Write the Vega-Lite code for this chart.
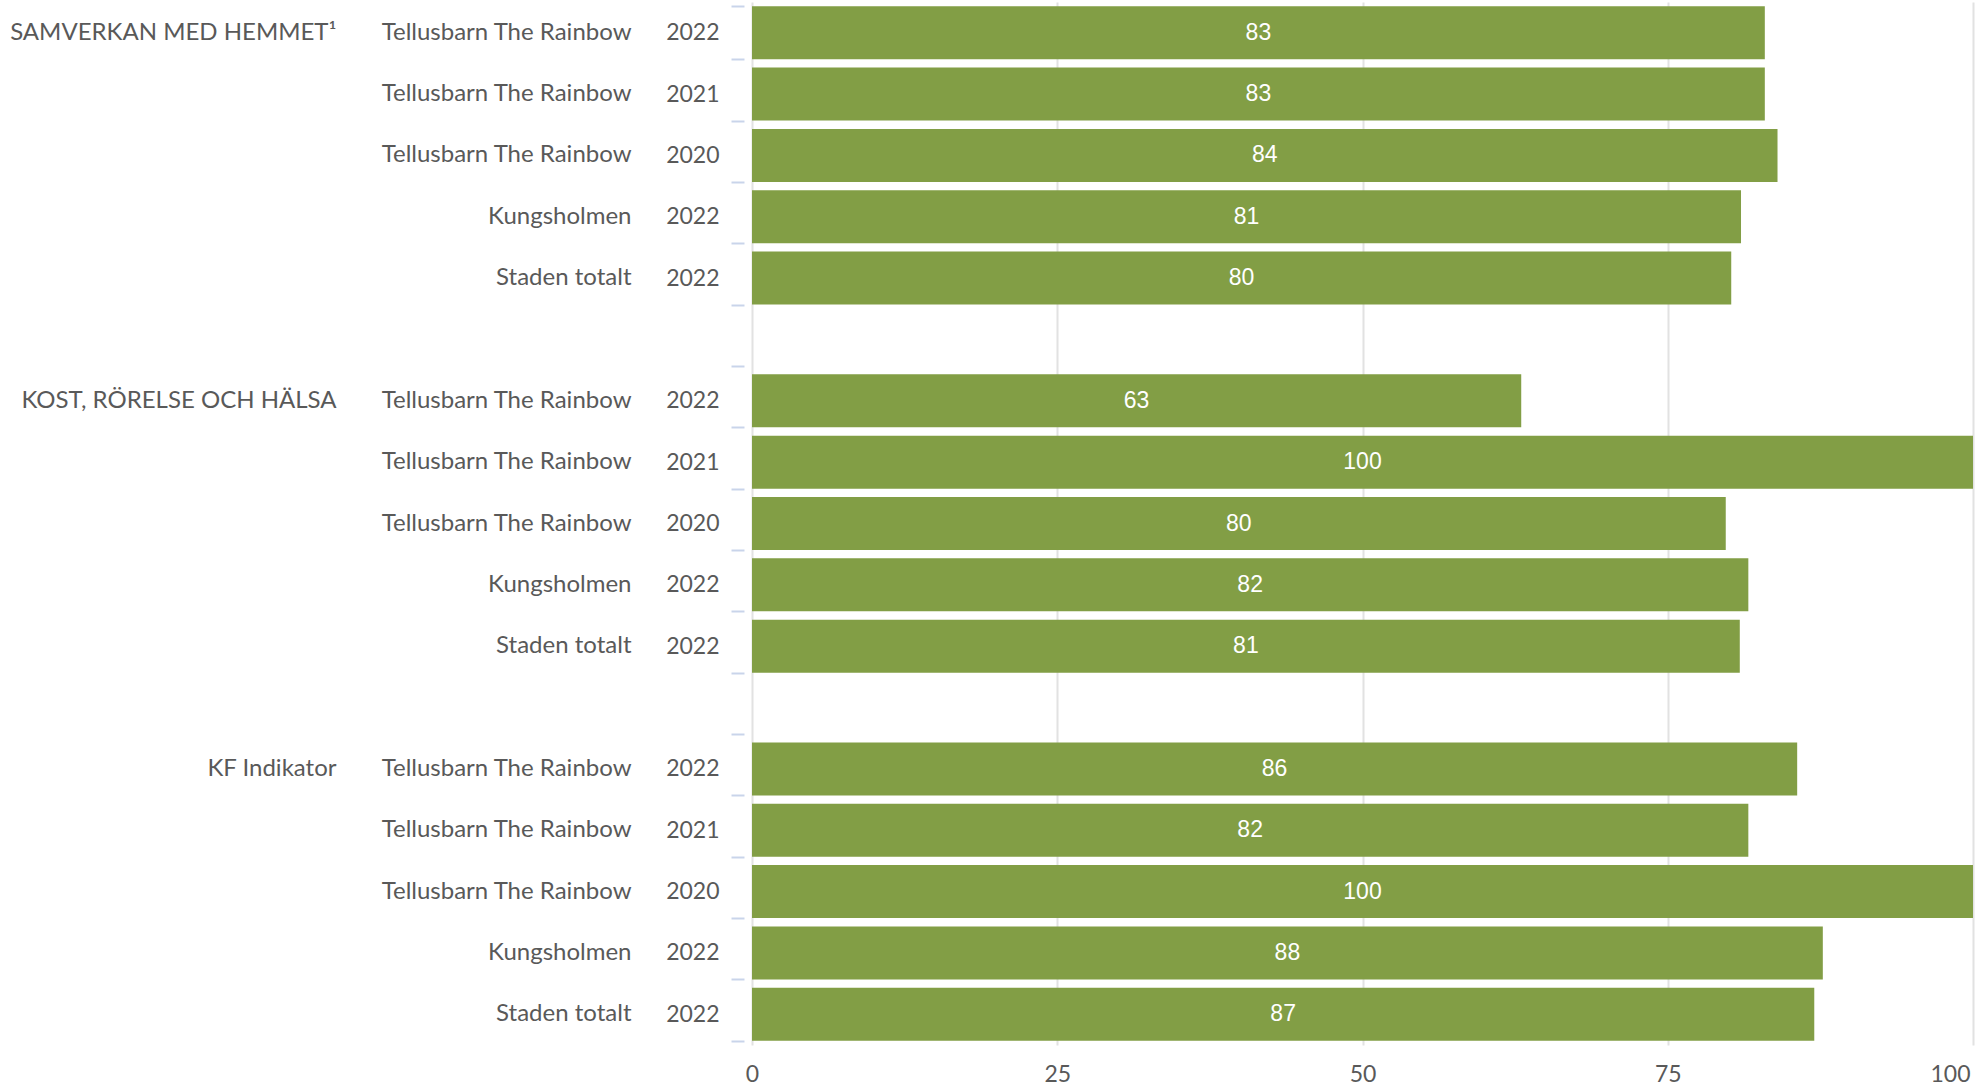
{
  "$schema": "https://vega.github.io/schema/vega-lite/v6.json",
  "width": 1221,
  "height": 1043,
  "autosize": {"type": "none"},
  "padding": {"left": 752, "top": 2, "right": 2, "bottom": 42},
  "background": "white",
  "config": {
    "view": {"stroke": null},
    "font": "Lato",
    "axis": {"labelFont": "Lato", "labelColor": "#595959", "labelFontSize": 23, "title": null}
  },
  "data": {
    "values": [
      {"row": "SAMVERKAN MED HEMMET¹|Tellusbarn The Rainbow|2022|1", "group": "SAMVERKAN MED HEMMET", "entity": "Tellusbarn The Rainbow", "year": "2022", "value": 82.95},
      {"row": "|Tellusbarn The Rainbow|2021|2", "group": "SAMVERKAN MED HEMMET", "entity": "Tellusbarn The Rainbow", "year": "2021", "value": 82.95},
      {"row": "|Tellusbarn The Rainbow|2020|3", "group": "SAMVERKAN MED HEMMET", "entity": "Tellusbarn The Rainbow", "year": "2020", "value": 83.99},
      {"row": "|Kungsholmen|2022|4", "group": "SAMVERKAN MED HEMMET", "entity": "Kungsholmen", "year": "2022", "value": 81.0},
      {"row": "|Staden totalt|2022|5", "group": "SAMVERKAN MED HEMMET", "entity": "Staden totalt", "year": "2022", "value": 80.2},
      {"row": "KOST, RÖRELSE OCH HÄLSA|Tellusbarn The Rainbow|2022|6", "group": "KOST, RÖRELSE OCH HÄLSA", "entity": "Tellusbarn The Rainbow", "year": "2022", "value": 63.0},
      {"row": "|Tellusbarn The Rainbow|2021|7", "group": "KOST, RÖRELSE OCH HÄLSA", "entity": "Tellusbarn The Rainbow", "year": "2021", "value": 100},
      {"row": "|Tellusbarn The Rainbow|2020|8", "group": "KOST, RÖRELSE OCH HÄLSA", "entity": "Tellusbarn The Rainbow", "year": "2020", "value": 79.75},
      {"row": "|Kungsholmen|2022|9", "group": "KOST, RÖRELSE OCH HÄLSA", "entity": "Kungsholmen", "year": "2022", "value": 81.6},
      {"row": "|Staden totalt|2022|10", "group": "KOST, RÖRELSE OCH HÄLSA", "entity": "Staden totalt", "year": "2022", "value": 80.9},
      {"row": "KF Indikator|Tellusbarn The Rainbow|2022|11", "group": "KF Indikator", "entity": "Tellusbarn The Rainbow", "year": "2022", "value": 85.6},
      {"row": "|Tellusbarn The Rainbow|2021|12", "group": "KF Indikator", "entity": "Tellusbarn The Rainbow", "year": "2021", "value": 81.6},
      {"row": "|Tellusbarn The Rainbow|2020|13", "group": "KF Indikator", "entity": "Tellusbarn The Rainbow", "year": "2020", "value": 100},
      {"row": "|Kungsholmen|2022|14", "group": "KF Indikator", "entity": "Kungsholmen", "year": "2022", "value": 87.7},
      {"row": "|Staden totalt|2022|15", "group": "KF Indikator", "entity": "Staden totalt", "year": "2022", "value": 87.0}
    ]
  },
  "layer": [
    {
      "mark": {"type": "bar", "color": "#829e45"},
      "encoding": {
        "y": {
          "field": "row", "type": "nominal",
          "scale": {
            "domain": [
              "SAMVERKAN MED HEMMET¹|Tellusbarn The Rainbow|2022|1", "|Tellusbarn The Rainbow|2021|2", "|Tellusbarn The Rainbow|2020|3", "|Kungsholmen|2022|4", "|Staden totalt|2022|5", "|||gap1",
              "KOST, RÖRELSE OCH HÄLSA|Tellusbarn The Rainbow|2022|6", "|Tellusbarn The Rainbow|2021|7", "|Tellusbarn The Rainbow|2020|8", "|Kungsholmen|2022|9", "|Staden totalt|2022|10", "|||gap2",
              "KF Indikator|Tellusbarn The Rainbow|2022|11", "|Tellusbarn The Rainbow|2021|12", "|Tellusbarn The Rainbow|2020|13", "|Kungsholmen|2022|14", "|Staden totalt|2022|15"
            ],
            "paddingInner": 0.136, "paddingOuter": 0.068
          },
          "axis": {
            "orient": "left", "labelExpr": "split(datum.value, '|')[2]",
            "tickBand": "extent", "ticks": true, "tickSize": 13, "tickWidth": 2, "tickColor": "#c9d4ea",
            "offset": 8, "labelPadding": 12, "domain": false, "grid": false, "labelOverlap": false, "labelLimit": 400
          }
        },
        "x": {
          "field": "value", "type": "quantitative",
          "scale": {"domain": [0, 100], "nice": false, "zero": true},
          "axis": {
            "values": [0, 25, 50, 75, 100], "grid": true, "gridColor": "#e2e2e2", "gridWidth": 2,
            "domain": false, "ticks": false, "labelPadding": 18,
            "labelAlign": {"expr": "datum.value == 100 ? 'right' : 'center'"}, "labelOffset": {"expr": "datum.value == 100 ? -3 : 0"}
          }
        }
      }
    },
    {
      "mark": {"type": "text", "color": "white", "font": "Liberation Sans", "fontSize": 23, "align": "center", "baseline": "middle"},
      "encoding": {
        "y": {
          "field": "row", "type": "nominal",
          "scale": {
            "domain": [
              "SAMVERKAN MED HEMMET¹|Tellusbarn The Rainbow|2022|1", "|Tellusbarn The Rainbow|2021|2", "|Tellusbarn The Rainbow|2020|3", "|Kungsholmen|2022|4", "|Staden totalt|2022|5", "|||gap1",
              "KOST, RÖRELSE OCH HÄLSA|Tellusbarn The Rainbow|2022|6", "|Tellusbarn The Rainbow|2021|7", "|Tellusbarn The Rainbow|2020|8", "|Kungsholmen|2022|9", "|Staden totalt|2022|10", "|||gap2",
              "KF Indikator|Tellusbarn The Rainbow|2022|11", "|Tellusbarn The Rainbow|2021|12", "|Tellusbarn The Rainbow|2020|13", "|Kungsholmen|2022|14", "|Staden totalt|2022|15"
            ],
            "paddingInner": 0.136, "paddingOuter": 0.068
          },
          "axis": {
            "orient": "left", "labelExpr": "split(datum.value, '|')[1]", "labelFontSize": 24,
            "ticks": false, "tickSize": 0, "labelPadding": 121, "domain": false, "grid": false, "labelOverlap": false, "labelLimit": 500
          }
        },
        "x": {
          "field": "value", "type": "quantitative",
          "scale": {"domain": [0, 200], "nice": false, "zero": true},
          "axis": null
        },
        "text": {"field": "value", "type": "quantitative", "format": ".0f"}
      }
    },
    {
      "mark": {"type": "text", "opacity": 0},
      "encoding": {
        "y": {
          "field": "row", "type": "nominal",
          "scale": {
            "domain": [
              "SAMVERKAN MED HEMMET¹|Tellusbarn The Rainbow|2022|1", "|Tellusbarn The Rainbow|2021|2", "|Tellusbarn The Rainbow|2020|3", "|Kungsholmen|2022|4", "|Staden totalt|2022|5", "|||gap1",
              "KOST, RÖRELSE OCH HÄLSA|Tellusbarn The Rainbow|2022|6", "|Tellusbarn The Rainbow|2021|7", "|Tellusbarn The Rainbow|2020|8", "|Kungsholmen|2022|9", "|Staden totalt|2022|10", "|||gap2",
              "KF Indikator|Tellusbarn The Rainbow|2022|11", "|Tellusbarn The Rainbow|2021|12", "|Tellusbarn The Rainbow|2020|13", "|Kungsholmen|2022|14", "|Staden totalt|2022|15"
            ],
            "paddingInner": 0.136, "paddingOuter": 0.068
          },
          "axis": {
            "orient": "left", "labelExpr": "split(datum.value, '|')[0]", "labelFontSize": 24,
            "ticks": false, "tickSize": 0, "labelPadding": 416, "domain": false, "grid": false, "labelOverlap": false, "labelLimit": 700
          }
        },
        "x": {"value": 0},
        "text": {"field": "group", "type": "nominal"}
      }
    }
  ],
  "resolve": {"scale": {"x": "independent"}, "axis": {"y": "independent"}}
}
